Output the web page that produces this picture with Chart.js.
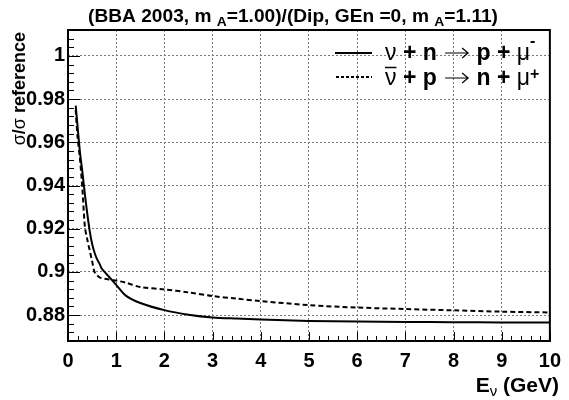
<!DOCTYPE html>
<html>
<head>
<meta charset="utf-8">
<script src="https://cdn.jsdelivr.net/npm/chart.js@4/dist/chart.umd.min.js"></script>
<style>
  body { margin: 0; background: #fff; }
  #wrap { width: 569px; height: 400px; position: relative; }
</style>
</head>
<body>
<div id="wrap"><canvas id="ratioChart"></canvas></div>
<script>
// neutrino energy (GeV) and cross-section ratios
const energy = [0.16, 0.2, 0.25, 0.3, 0.35, 0.4, 0.45, 0.5, 0.55, 0.6, 0.66, 0.7, 0.8, 0.9, 1.0, 1.2, 1.5, 2.0, 2.5, 3.0, 3.5, 4, 5, 6, 7, 8, 9, 10];
const nuRatio = [0.977, 0.967, 0.955, 0.946, 0.936, 0.927, 0.919, 0.913, 0.909, 0.906, 0.9035, 0.9015, 0.899, 0.8965, 0.894, 0.889, 0.8856, 0.8823, 0.8802, 0.8789, 0.8784, 0.878, 0.8773, 0.877, 0.8768, 0.8767, 0.8766, 0.8766];
const nubarRatio = [0.975, 0.962, 0.952, 0.938, 0.921, 0.915, 0.910, 0.905, 0.900, 0.8985, 0.8974, 0.8971, 0.8967, 0.8963, 0.896, 0.895, 0.893, 0.8919, 0.8905, 0.8888, 0.8876, 0.8865, 0.8846, 0.8835, 0.8828, 0.8822, 0.8816, 0.8812];
const xTicks = [0, 1, 2, 3, 4, 5, 6, 7, 8, 9, 10];
const yTicks = [0.88, 0.9, 0.92, 0.94, 0.96, 0.98, 1];

const FAM = '"Liberation Sans", Arial, sans-serif';

// draw a run of [text, font, dy] pieces left to right
// a piece with text null is a reaction arrow drawn as strokes
function drawRun(ctx, x, y, pieces) {
    pieces.forEach(function (p) {
        if (p[0] === null) {
            const ay = y - 7;
            ctx.save();
            ctx.lineWidth = 1.2;
            ctx.beginPath();
            ctx.moveTo(x + 2, ay); ctx.lineTo(x + 25, ay);
            ctx.moveTo(x + 19, ay - 5); ctx.lineTo(x + 25, ay); ctx.lineTo(x + 19, ay + 5);
            ctx.stroke();
            ctx.restore();
            x += 27;
            return;
        }
        ctx.font = p[1];
        ctx.fillText(p[0], x, y + (p[2] || 0));
        x += ctx.measureText(p[0]).width;
    });
    return x;
}
function runWidth(ctx, pieces) {
    let w = 0;
    pieces.forEach(function (p) { ctx.font = p[1]; w += ctx.measureText(p[0]).width; });
    return w;
}

const rootDecor = {
    id: 'rootDecor',
    afterDraw: function (chart) {
        const ctx = chart.ctx;
        const a = chart.chartArea;
        const xs = chart.scales.x, ys = chart.scales.y;
        ctx.save();
        ctx.strokeStyle = '#000';
        ctx.lineWidth = 1;
        ctx.setLineDash([]);
        // inward ticks, bottom axis
        ctx.beginPath();
        for (let i = 0; i <= 50; i++) {
            const px = Math.round(xs.getPixelForValue(i * 0.2)) + 0.5;
            const len = (i % 5 === 0) ? 9 : 5;
            ctx.moveTo(px, a.bottom);
            ctx.lineTo(px, a.bottom - len);
        }
        // inward ticks, left axis
        for (let i = 0; i <= 36; i++) {
            const v = 0.868 + i * 0.004;
            if (v > 1.0121) break;
            const py = Math.round(ys.getPixelForValue(v)) + 0.5;
            const k = (v - 0.88) / 0.02;
            const major = Math.abs(k - Math.round(k)) < 0.01;
            ctx.moveTo(a.left, py);
            ctx.lineTo(a.left + (major ? 12 : 6), py);
        }
        ctx.stroke();
        // frame
        ctx.lineWidth = 2;
        ctx.strokeRect(a.left, a.top, a.right - a.left, a.bottom - a.top);

        ctx.fillStyle = '#000';
        ctx.textBaseline = 'alphabetic';
        ctx.textAlign = 'left';

        // title, stretched to the width ROOT gave it
        const TB = 'bold 18px ' + FAM;
        const TS = 'bold 13px ' + FAM;
        const title = [
            ['(BBA 2003, m ', TB], ['A', TS, 4], ['=1.00)/(Dip, GEn =0, m ', TB], ['A', TS, 4], ['=1.11)', TB]
        ];
        ctx.save();
        ctx.translate(88, 22);
        ctx.scale(410 / runWidth(ctx, title), 1);
        drawRun(ctx, 0, 0, title);
        ctx.restore();

        // legend
        ctx.lineWidth = 2;
        ctx.beginPath();
        ctx.moveTo(335, 53); ctx.lineTo(372, 53);
        ctx.stroke();
        ctx.setLineDash([3, 2]);
        ctx.beginPath();
        ctx.moveTo(336, 77); ctx.lineTo(372, 77);
        ctx.stroke();
        ctx.setLineDash([]);
        const LB = 'bold 23px ' + FAM;
        const LN = '23px ' + FAM;
        const SUP = 'bold 16px ' + FAM;
        drawRun(ctx, 385, 60, [
            ['ν', LN], [' + n ', LB], [null], [' p + ', LB], ['μ', LN], ['-', SUP, -14]
        ]);
        ctx.font = LN;
        const nuW = ctx.measureText('ν').width;
        drawRun(ctx, 385, 85, [
            ['ν', LN], [' + p ', LB], [null], [' n + ', LB], ['μ', LN], ['+', SUP, -6]
        ]);
        ctx.lineWidth = 1.5;
        ctx.beginPath();
        ctx.moveTo(385, 67.5); ctx.lineTo(385 + nuW, 67.5);
        ctx.stroke();

        // x axis title (right aligned)
        const xt = [['E', 'bold 21px ' + FAM], ['ν', '15px ' + FAM, 4], [' (GeV)', 'bold 21px ' + FAM]];
        drawRun(ctx, 559 - runWidth(ctx, xt), 392, xt);

        // y axis title (rotated, right aligned at top)
        const YB = 'bold 18px ' + FAM;
        const YN = '18px ' + FAM;
        const yt = [['σ', YN], ['/', YB], ['σ', YN], [' reference', YB]];
        ctx.translate(25, 32);
        ctx.rotate(-Math.PI / 2);
        drawRun(ctx, -runWidth(ctx, yt), 0, yt);
        ctx.restore();
    }
};

const ctx = document.getElementById('ratioChart').getContext('2d');
new Chart(ctx, {
    type: 'line',
    data: {
        datasets: [{
            label: 'nu + n -> p + mu-',
            data: energy.map(function (e, i) { return { x: e, y: nuRatio[i] }; }),
            borderColor: '#000',
            borderWidth: 2,
            pointRadius: 0,
            tension: 0.3,
            fill: false
        }, {
            label: 'nubar + p -> n + mu+',
            data: energy.map(function (e, i) { return { x: e, y: nubarRatio[i] }; }),
            borderColor: '#000',
            borderWidth: 2,
            borderDash: [5, 3],
            pointRadius: 0,
            tension: 0.3,
            fill: false
        }]
    },
    options: {
        responsive: true,
        maintainAspectRatio: false,
        animation: false,
        layout: { padding: { left: 0, right: 12, top: 30, bottom: 0 } },
        plugins: { legend: { display: false }, tooltip: { enabled: false } },
        scales: {
            x: {
                type: 'linear',
                min: 0, max: 10,
                afterFit: function (s) { s.height = 59; },
                afterBuildTicks: function (s) { s.ticks = xTicks.map(function (v) { return { value: v }; }); },
                grid: { color: '#777', drawTicks: false },
                border: { display: false, dash: [2, 2] },
                ticks: {
                    color: '#000',
                    padding: 8,
                    font: { family: FAM, size: 20, weight: 'bold' }
                }
            },
            y: {
                type: 'linear',
                min: 0.868, max: 1.012,
                afterFit: function (s) { s.width = 68; },
                afterBuildTicks: function (s) { s.ticks = yTicks.map(function (v) { return { value: v }; }); },
                grid: { color: '#777', drawTicks: false },
                border: { display: false, dash: [2, 2] },
                ticks: {
                    color: '#000',
                    padding: 3,
                    font: { family: FAM, size: 20, weight: 'bold' },
                    callback: function (v) { return String(parseFloat(Number(v).toFixed(2))); }
                }
            }
        }
    },
    plugins: [rootDecor]
});
</script>
</body>
</html>
